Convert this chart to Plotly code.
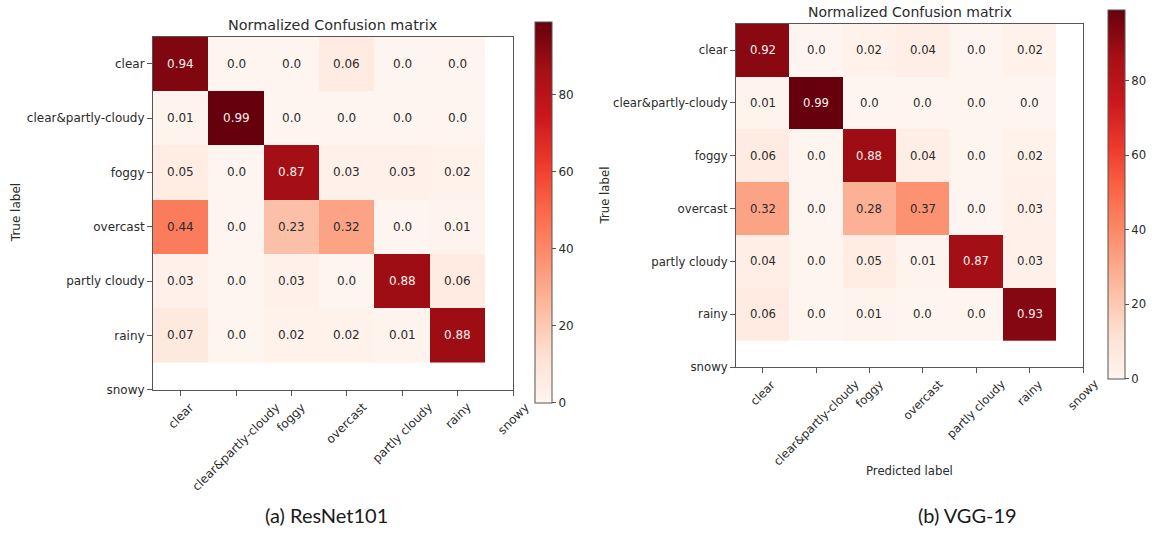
import plotly.graph_objects as go

# Weather classes (the last one, "snowy", has no samples in the test split)
class_labels = ["clear", "clear&partly-cloudy", "foggy", "overcast",
                "partly cloudy", "rainy", "snowy"]

# Row-normalized confusion matrices (rows = true label, cols = predicted label)
resnet101_cm = [
    [0.94, 0.0, 0.0, 0.06, 0.0, 0.0],
    [0.01, 0.99, 0.0, 0.0, 0.0, 0.0],
    [0.05, 0.0, 0.87, 0.03, 0.03, 0.02],
    [0.44, 0.0, 0.23, 0.32, 0.0, 0.01],
    [0.03, 0.0, 0.03, 0.0, 0.88, 0.06],
    [0.07, 0.0, 0.02, 0.02, 0.01, 0.88],
]
vgg19_cm = [
    [0.92, 0.0, 0.02, 0.04, 0.0, 0.02],
    [0.01, 0.99, 0.0, 0.0, 0.0, 0.0],
    [0.06, 0.0, 0.88, 0.04, 0.0, 0.02],
    [0.32, 0.0, 0.28, 0.37, 0.0, 0.03],
    [0.04, 0.0, 0.05, 0.01, 0.87, 0.03],
    [0.06, 0.0, 0.01, 0.0, 0.0, 0.93],
]

panel_captions = ["(a) ResNet101", "(b) VGG-19"]
colorbar_ticks = [0, 20, 40, 60, 80]

# matplotlib "Reds"
reds = ["rgb(255,245,240)", "rgb(254,224,210)", "rgb(252,187,161)",
        "rgb(252,146,114)", "rgb(251,106,74)", "rgb(239,59,44)",
        "rgb(203,24,29)", "rgb(165,15,21)", "rgb(103,0,13)"]
reds_scale = [[i / (len(reds) - 1), c] for i, c in enumerate(reds)]

W, H = 1152, 538
FONT = "DejaVu Sans"
TXT = "#2b2b2b"
LINE = "#555555"


def px(x):
    return x / W


def py(y):
    return 1 - y / H


# pixel geometry of each panel: axes box, colorbar box, label anchors
panels = [
    dict(cm=resnet101_cm, box=(153, 37, 513, 395), cbar=(535, 22, 17, 408),
         title_y=25, ylab_x=16, xlab=False, caption=(326, 522), font=12),
    dict(cm=vgg19_cm, box=(736, 24, 1083, 372), cbar=(1108, 10, 17, 384),
         title_y=12, ylab_x=605, xlab=True, caption=(967, 522), font=11.7),
]

fig = go.Figure()
annotations = []
n_cls = len(class_labels) - 1

for i, p in enumerate(panels):
    sfx = "" if i == 0 else str(i + 1)
    xa, ya = "x" + sfx, "y" + sfx
    x0, y0, x1, y1 = p["box"]
    cbx, cby0, cbw, cby1 = p["cbar"]
    cm = p["cm"]
    z = [[v * 100 for v in row] for row in cm]
    zmax = max(max(row) for row in z)
    fs = p["font"]

    fig.add_trace(go.Heatmap(
        z=z, x=list(range(n_cls)), y=list(range(n_cls)),
        colorscale=reds_scale, zmin=0, zmax=zmax,
        xaxis=xa, yaxis=ya, hoverinfo="skip",
        colorbar=dict(
            x=px(cbx), xanchor="left", xpad=0,
            y=py((cby0 + cby1) / 2), yanchor="middle", ypad=0,
            len=(cby1 - cby0) / H, lenmode="fraction",
            thickness=cbw, thicknessmode="pixels",
            outlinewidth=1, outlinecolor=LINE,
            tickvals=colorbar_ticks, ticks="outside", ticklen=4,
            tickcolor=LINE, tickfont=dict(family=FONT, size=fs, color=TXT),
        ),
    ))

    fig.layout["xaxis" + sfx] = dict(
        domain=[px(x0), px(x1)], range=[-0.5, n_cls], anchor=ya,
        tickvals=list(range(len(class_labels))), showticklabels=False,
        ticks="outside", ticklen=5, tickcolor=LINE, showline=True,
        mirror=True, linecolor=LINE, linewidth=1, showgrid=False,
        zeroline=False, fixedrange=True,
    )
    fig.layout["yaxis" + sfx] = dict(
        domain=[py(y1), py(y0)], range=[n_cls, -0.5], anchor=xa,
        tickvals=list(range(len(class_labels))), ticktext=class_labels,
        ticks="outside", ticklen=5, tickcolor=LINE, showline=True,
        mirror=True, linecolor=LINE, linewidth=1, showgrid=False,
        zeroline=False, fixedrange=True,
        tickfont=dict(family=FONT, size=fs, color=TXT),
    )

    # cell values, white on dark cells
    thresh = max(max(row) for row in cm) / 2
    for r, row in enumerate(cm):
        for c, v in enumerate(row):
            annotations.append(dict(
                x=c, y=r, xref=xa, yref=ya, text=str(v), showarrow=False,
                font=dict(family=FONT, size=fs,
                          color="#fbeeee" if v > thresh else TXT)))

    # rotated predicted-class labels below the x axis
    for k, lab in enumerate(class_labels):
        annotations.append(dict(
            x=k, y=py(y1 + 9), xref=xa, yref="paper", text=lab,
            showarrow=False, textangle=-45, xanchor="center",
            yanchor="top", borderpad=0,
            font=dict(family=FONT, size=fs, color=TXT)))

    annotations.append(dict(
        x=px((x0 + x1) / 2), y=py(p["title_y"]), xref="paper", yref="paper",
        text="Normalized Confusion matrix", showarrow=False,
        xanchor="center", yanchor="middle",
        font=dict(family=FONT, size=fs * 1.2, color=TXT)))
    annotations.append(dict(
        x=px(p["ylab_x"]), y=py((y0 + y1) / 2), xref="paper", yref="paper",
        text="True label", showarrow=False, textangle=-90,
        xanchor="center", yanchor="middle",
        font=dict(family=FONT, size=fs, color=TXT)))
    if p["xlab"]:
        annotations.append(dict(
            x=px((x0 + x1) / 2), y=py(477), xref="paper", yref="paper",
            text="Predicted label", showarrow=False,
            xanchor="center", yanchor="middle",
            font=dict(family=FONT, size=fs, color=TXT)))
    cx, cy = p["caption"]
    annotations.append(dict(
        x=px(cx), y=py(cy), xref="paper", yref="paper",
        text=panel_captions[i], showarrow=False,
        xanchor="center", yanchor="middle",
        font=dict(family="Lato", size=20, color="#1a1a1a")))

fig.update_layout(
    width=W, height=H, margin=dict(l=0, r=0, t=0, b=0),
    paper_bgcolor="white", plot_bgcolor="white",
    annotations=annotations, showlegend=False,
)

fig.write_html("out.html")
